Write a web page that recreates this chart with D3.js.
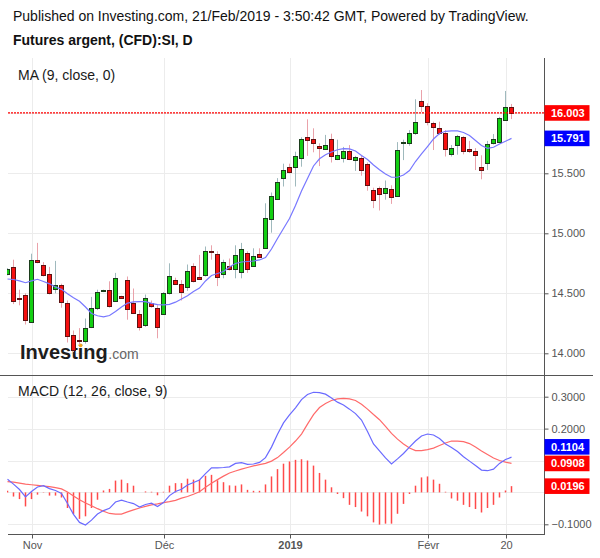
<!DOCTYPE html>
<html><head><meta charset="utf-8">
<script src="https://cdn.jsdelivr.net/npm/d3@7"></script>
<style>
html,body{margin:0;padding:0;background:#fff;}
svg{display:block;font-family:"Liberation Sans",Arial,sans-serif;}
</style></head><body>
<svg id="chart" width="600" height="558"></svg>
<script>
const title = "Published on Investing.com, 21/Feb/2019 - 3:50:42 GMT, Powered by TradingView.";
const subtitle = "Futures argent, (CFD):SI, D";
const maLabel = "MA (9, close, 0)";
const macdLabel = "MACD (12, 26, close, 9)";

const dates = ["2018-10-26","2018-10-29","2018-10-30","2018-10-31",
"2018-11-01","2018-11-02","2018-11-05","2018-11-06","2018-11-07","2018-11-08","2018-11-09","2018-11-12","2018-11-13","2018-11-14","2018-11-15","2018-11-16","2018-11-19","2018-11-20","2018-11-21","2018-11-22","2018-11-23","2018-11-26","2018-11-27","2018-11-28","2018-11-29","2018-11-30",
"2018-12-03","2018-12-04","2018-12-05","2018-12-06","2018-12-07","2018-12-10","2018-12-11","2018-12-12","2018-12-13","2018-12-14","2018-12-17","2018-12-18","2018-12-19","2018-12-20","2018-12-21","2018-12-24","2018-12-25","2018-12-26","2018-12-27","2018-12-28","2018-12-31",
"2019-01-01","2019-01-02","2019-01-03","2019-01-04","2019-01-07","2019-01-08","2019-01-09","2019-01-10","2019-01-11","2019-01-14","2019-01-15","2019-01-16","2019-01-17","2019-01-18","2019-01-21","2019-01-22","2019-01-23","2019-01-24","2019-01-25","2019-01-28","2019-01-29","2019-01-30","2019-01-31",
"2019-02-01","2019-02-04","2019-02-05","2019-02-06","2019-02-07","2019-02-08","2019-02-11","2019-02-12","2019-02-13","2019-02-14","2019-02-15","2019-02-18","2019-02-19","2019-02-20","2019-02-21"];

const open = [14.66,14.72,14.465,14.49,14.26,14.78,14.74,14.66,14.54,14.567,
14.42,14.15,14.11,14.10,14.22,14.38,14.52,14.53,14.44,14.475,
14.61,14.42,14.33,14.24,14.42,14.375,14.33,14.50,14.61,14.58,
14.55,14.73,14.635,14.65,14.855,14.825,14.66,14.73,14.705,14.68,
14.84,14.73,14.83,14.875,15.117,15.29,15.46,15.555,15.55,15.625,
15.80,15.79,15.725,15.705,15.79,15.62,15.63,15.686,15.613,15.625,
15.58,15.36,15.375,15.34,15.367,15.313,15.75,15.75,15.84,16.10,
16.058,15.92,15.877,15.836,15.66,15.736,15.80,15.70,15.686,15.553,
15.583,15.75,15.76,15.944,16.05];
const high = [14.71,14.78,14.53,14.50,14.83,14.92,14.76,14.72,14.77,14.58,
14.44,14.19,14.21,14.29,14.47,14.53,14.53,14.60,14.67,14.48,
14.64,14.54,14.36,14.49,14.44,14.40,14.51,14.75,14.63,14.61,
14.74,14.75,14.82,14.89,14.90,14.85,14.78,14.79,14.90,14.92,
14.85,14.875,14.875,15.25,15.34,15.46,15.58,15.58,15.68,15.80,
15.95,15.875,15.75,15.82,15.83,15.78,15.72,15.735,15.645,15.65,
15.59,15.38,15.39,15.44,15.40,15.76,15.78,15.86,16.117,16.194,
16.083,15.93,15.93,15.86,15.736,15.82,15.81,15.77,15.71,15.65,
15.77,15.827,15.97,16.186,16.078];
const low = [14.65,14.41,14.40,14.24,14.26,14.75,14.64,14.49,14.50,14.38,
14.09,14.01,14.07,14.08,14.21,14.36,14.51,14.38,14.43,14.46,
14.28,14.33,14.19,14.22,14.38,14.125,14.33,14.49,14.57,14.44,
14.52,14.59,14.62,14.64,14.78,14.56,14.625,14.69,14.625,14.625,
14.67,14.72,14.80,14.87,15.005,15.28,15.39,15.50,15.39,15.555,
15.645,15.675,15.56,15.70,15.59,15.61,15.59,15.61,15.52,15.48,
15.355,15.21,15.19,15.28,15.245,15.305,15.61,15.73,15.82,16.01,
15.90,15.694,15.82,15.64,15.64,15.655,15.658,15.67,15.527,15.45,
15.527,15.74,15.75,15.94,15.952];
const close = [14.70,14.44,14.455,14.28,14.775,14.76,14.65,14.50,14.567,14.425,
14.14,14.03,14.10,14.21,14.38,14.51,14.525,14.39,14.625,14.465,
14.37,14.34,14.22,14.46,14.39,14.22,14.50,14.64,14.58,14.51,
14.69,14.605,14.62,14.85,14.845,14.635,14.76,14.70,14.82,14.87,
14.70,14.815,14.805,15.125,15.31,15.43,15.53,15.51,15.64,15.79,
15.78,15.75,15.71,15.735,15.64,15.65,15.686,15.617,15.636,15.53,
15.40,15.28,15.325,15.375,15.30,15.694,15.76,15.836,15.927,16.063,
15.925,15.883,15.833,15.70,15.71,15.808,15.686,15.683,15.65,15.525,
15.74,15.783,15.958,16.05,16.003];

const ma9 = [14.619,14.615,14.603,14.588,14.603,14.617,14.598,14.579,14.553,14.533,
14.496,14.463,14.433,14.386,14.332,14.313,14.304,14.315,14.348,14.386,
14.418,14.428,14.430,14.430,14.416,14.406,14.403,14.408,14.426,14.453,
14.479,14.515,14.544,14.603,14.648,14.665,14.682,14.719,14.748,14.761,
14.765,14.769,14.778,14.798,14.869,14.957,15.040,15.123,15.232,15.353,
15.457,15.561,15.621,15.654,15.678,15.696,15.706,15.704,15.686,15.648,
15.615,15.569,15.530,15.494,15.467,15.467,15.486,15.523,15.598,15.661,
15.723,15.786,15.832,15.850,15.853,15.853,15.840,15.815,15.773,15.732,
15.708,15.717,15.744,15.767,15.791];

const macd = [0.041,0.026,0.009,-0.014,0.003,0.017,0.021,0.012,0.006,-0.003,
-0.035,-0.069,-0.094,-0.102,-0.087,-0.068,-0.057,-0.050,-0.030,-0.024,
-0.030,-0.035,-0.046,-0.038,-0.034,-0.044,-0.032,-0.010,0.003,0.010,
0.023,0.031,0.039,0.059,0.077,0.077,0.078,0.080,0.091,0.093,
0.088,0.089,0.094,0.109,0.142,0.182,0.218,0.243,0.265,0.291,
0.307,0.314,0.313,0.308,0.296,0.283,0.274,0.261,0.247,0.227,
0.191,0.152,0.130,0.108,0.089,0.105,0.122,0.142,0.161,0.177,
0.183,0.180,0.169,0.152,0.141,0.128,0.112,0.098,0.084,0.070,
0.068,0.073,0.091,0.103,0.1104];
const signal = [0.034,0.032,0.029,0.026,0.024,0.022,0.020,0.018,0.015,0.011,
0.001,-0.011,-0.023,-0.033,-0.042,-0.051,-0.059,-0.066,-0.068,-0.068,
-0.061,-0.055,-0.049,-0.044,-0.039,-0.036,-0.032,-0.029,-0.025,-0.018,
-0.013,-0.006,0.002,0.016,0.029,0.040,0.051,0.061,0.067,0.073,
0.078,0.083,0.087,0.091,0.098,0.109,0.125,0.142,0.161,0.183,
0.214,0.244,0.266,0.279,0.288,0.293,0.295,0.293,0.288,0.276,
0.261,0.244,0.228,0.207,0.185,0.167,0.152,0.139,0.131,0.131,
0.134,0.139,0.147,0.155,0.161,0.161,0.159,0.153,0.142,0.130,
0.119,0.108,0.100,0.095,0.0908];
const hist = [0.005,-0.013,-0.021,-0.044,-0.021,-0.007,0.001,-0.010,-0.010,-0.016,
-0.049,-0.068,-0.083,-0.075,-0.049,-0.023,0.006,0.011,0.037,0.040,
0.029,0.021,0.000,0.003,0.002,-0.009,0.002,0.021,0.029,0.029,
0.043,0.040,0.040,0.052,0.055,0.038,0.032,0.022,0.021,0.025,
0.008,0.005,0.005,0.025,0.050,0.073,0.090,0.097,0.102,0.104,
0.100,0.084,0.061,0.040,0.016,-0.005,-0.018,-0.039,-0.046,-0.060,
-0.075,-0.094,-0.101,-0.098,-0.098,-0.067,-0.036,-0.005,0.021,0.047,
0.050,0.040,0.027,0.002,-0.019,-0.026,-0.039,-0.046,-0.052,-0.063,
-0.049,-0.039,-0.016,0.006,0.0196];

const priceTicks = [14, 14.5, 15, 15.5, 16];
const macdTicks = [-0.1, 0, 0.1, 0.2, 0.3];
const xTickDates = ["2018-11-01","2018-12-03","2019-01-01","2019-02-01","2019-02-20"];
const xTickLabels = ["Nov","Déc","2019","Févr","20"];

// ---------- layout ----------
const L = 7, R = 544, pTop = 58, pBot = 375, mTop = 375, mBot = 534;
const svg = d3.select("#chart");
svg.append("rect").attr("width",600).attr("height",558).attr("fill","#fff");

const x = d3.scalePoint().domain(dates).range([7.5, 511.5]);
const yP = d3.scaleLinear().domain([14, 16]).range([353.3, 113.3]);
const yM = d3.scaleLinear().domain([-0.1, 0.3]).range([524.3, 396.7]);
const crisp = v => Math.round(v) + 0.5;

const defs = svg.append("defs");
defs.append("clipPath").attr("id","clipP").append("rect").attr("x",L).attr("y",pTop).attr("width",R-L).attr("height",pBot-pTop);
defs.append("clipPath").attr("id","clipM").append("rect").attr("x",L).attr("y",mTop+1).attr("width",R-L).attr("height",mBot-mTop-1);

// titles
svg.append("text").attr("x",13).attr("y",21).attr("font-size",14).attr("fill","#111").text(title);
svg.append("text").attr("x",13).attr("y",45).attr("font-size",14).attr("font-weight","bold").attr("fill","#111").text(subtitle);

// grid
const grid = svg.append("g").attr("stroke","#ececec").attr("stroke-width",1);
grid.selectAll(".vg").data(xTickDates).join("line")
  .attr("x1",d=>crisp(x(d))).attr("x2",d=>crisp(x(d))).attr("y1",pTop).attr("y2",mBot);
grid.selectAll(".hp").data(priceTicks).join("line")
  .attr("x1",L+1).attr("x2",R).attr("y1",d=>crisp(yP(d))).attr("y2",d=>crisp(yP(d)));
grid.selectAll(".hm").data(macdTicks).join("line")
  .attr("x1",L+1).attr("x2",R).attr("y1",d=>crisp(yM(d))).attr("y2",d=>crisp(yM(d)));

// logo watermark
const logo = svg.append("g");
const inv = logo.append("text").attr("x",20).attr("y",358.5).attr("font-size",20).attr("font-weight","bold")
  .attr("fill","#1d1d1d").text("Investing");
const invW = inv.node().getComputedTextLength();
logo.append("text").attr("x",20+invW+0.5).attr("y",358.5).attr("font-size",14).attr("fill","#666").text(".com");
const iStart = inv.node().getStartPositionOfChar(6).x, iEnd = inv.node().getEndPositionOfChar(6).x;
logo.append("circle").attr("cx",(iStart+iEnd)/2).attr("cy",345.3).attr("r",1.9).attr("fill","#f5a623");

// labels
svg.append("text").attr("x",18).attr("y",80).attr("font-size",14).attr("fill","#1a1a1a").text(maLabel);
svg.append("text").attr("x",18).attr("y",396).attr("font-size",14).attr("fill","#1a1a1a").text(macdLabel);

// ---------- price pane ----------
const pg = svg.append("g").attr("clip-path","url(#clipP)");
const idx = d3.range(dates.length);
pg.selectAll(".wick").data(idx).join("line")
  .attr("x1",i=>x(dates[i])).attr("x2",i=>x(dates[i]))
  .attr("y1",i=>yP(high[i])).attr("y2",i=>yP(low[i]))
  .attr("stroke",i=>close[i]>=open[i] ? "#9fb9bd" : "#eaa2aa").attr("stroke-width",1);
pg.selectAll(".body").data(idx).join("rect")
  .attr("x",i=>x(dates[i])-2).attr("width",4)
  .attr("y",i=>Math.round(yP(Math.max(open[i],close[i])))+0.5)
  .attr("height",i=>Math.max(1, Math.round(yP(Math.min(open[i],close[i]))) - Math.round(yP(Math.max(open[i],close[i])))))
  .attr("fill",i=>close[i]>=open[i] ? "#12cf12" : "#f50f0f")
  .attr("stroke",i=>close[i]>=open[i] ? "#1c3d1c" : "#5e1212").attr("stroke-width",1);
pg.append("path").datum(idx)
  .attr("d", d3.line().x(i=>x(dates[i])).y(i=>yP(ma9[i])))
  .attr("fill","none").attr("stroke","#7878ff").attr("stroke-width",1.2);
const lastClose = close[close.length-1];
svg.append("line").attr("x1",L+1).attr("x2",R).attr("y1",yP(lastClose)).attr("y2",yP(lastClose))
  .attr("stroke","#ff0000").attr("stroke-dasharray","2,1").attr("stroke-width",1.2);

// ---------- MACD pane ----------
const mg = svg.append("g").attr("clip-path","url(#clipM)");
mg.selectAll(".hb").data(idx).join("line")
  .attr("x1",i=>x(dates[i])).attr("x2",i=>x(dates[i]))
  .attr("y1",yM(0)).attr("y2",i=>yM(hist[i]))
  .attr("stroke","#ff4a4a").attr("stroke-width",1.5);
mg.append("path").datum(idx)
  .attr("d", d3.line().x(i=>x(dates[i])).y(i=>yM(signal[i])))
  .attr("fill","none").attr("stroke","#ff6a6a").attr("stroke-width",1.2);
mg.append("path").datum(idx)
  .attr("d", d3.line().x(i=>x(dates[i])).y(i=>yM(macd[i])))
  .attr("fill","none").attr("stroke","#6a6aff").attr("stroke-width",1.2);

// ---------- value labels (computed first so covered tick labels can be hidden) ----------
const boxH = 15.6;
function stackLabels(items){
  items.sort((a,b)=>b.y-a.y);
  let prev = Infinity;
  items.forEach(it=>{ it.cy = Math.min(it.y, prev - boxH - 1); prev = it.cy; });
  return items;
}
const priceLabels = stackLabels([
  {v:lastClose, y:yP(lastClose), color:"#ff0000", fmt:d3.format(".3f")},
  {v:ma9[ma9.length-1], y:yP(ma9[ma9.length-1]), color:"#0000ff", fmt:d3.format(".3f")}
]);
const macdLabels = stackLabels([
  {v:macd[macd.length-1], y:yM(macd[macd.length-1]), color:"#0000ff", fmt:d3.format(".4f")},
  {v:signal[signal.length-1], y:yM(signal[signal.length-1]), color:"#ff0000", fmt:d3.format(".4f")},
  {v:hist[hist.length-1], y:yM(hist[hist.length-1]), color:"#ff0000", fmt:d3.format(".4f")}
]);
const allLabels = priceLabels.concat(macdLabels);
const covered = yy => allLabels.some(l => Math.abs(l.cy - yy) < boxH/2 + 5);

// ---------- axes ----------
const axisColor = "#555";
function styleAxis(g){
  g.select(".domain").remove();
  g.selectAll(".tick line").attr("stroke",axisColor);
  g.selectAll(".tick text").attr("fill","#555").attr("font-size",11).attr("font-family","Liberation Sans, Arial, sans-serif");
}
const ap = svg.append("g").attr("transform",`translate(${R+0.5},0)`)
  .call(d3.axisRight(yP).tickValues(priceTicks).tickFormat(d3.format(".3f")).tickSize(4).tickPadding(3))
  .call(styleAxis);
ap.selectAll(".tick text").attr("display",d=>covered(yP(d))?"none":null);
const am = svg.append("g").attr("transform",`translate(${R+0.5},0)`)
  .call(d3.axisRight(yM).tickValues(macdTicks).tickFormat(d3.format(".4f")).tickSize(4).tickPadding(3))
  .call(styleAxis);
am.selectAll(".tick text").attr("display",d=>covered(yM(d))?"none":null);
const xa = svg.append("g").attr("transform",`translate(0,${mBot+0.5})`)
  .call(d3.axisBottom(x).tickValues(xTickDates).tickFormat((d,i)=>xTickLabels[i]).tickSize(4).tickPadding(3))
  .call(styleAxis);
xa.selectAll(".tick").attr("transform",d=>`translate(${crisp(x(d))},0)`);
xa.selectAll(".tick text").attr("font-weight",(d,i)=>xTickLabels[i]==="2019"?"bold":"normal");

// frame lines
svg.append("line").attr("x1",R+0.5).attr("x2",R+0.5).attr("y1",pTop).attr("y2",mBot+1).attr("stroke",axisColor);
svg.append("line").attr("x1",0).attr("x2",593).attr("y1",mTop+0.5).attr("y2",mTop+0.5).attr("stroke",axisColor);
svg.append("line").attr("x1",L+1).attr("x2",R+1).attr("y1",mBot+0.5).attr("y2",mBot+0.5).attr("stroke",axisColor);

// draw value labels
allLabels.forEach(it=>{
  const g = svg.append("g");
  g.append("rect").attr("x",R+0.5).attr("y",it.cy-boxH/2).attr("width",45).attr("height",boxH).attr("fill",it.color);
  g.append("text").attr("x",551).attr("y",it.cy+4).attr("font-size",11).attr("font-weight","bold")
    .attr("fill","#fff").text(it.fmt(it.v));
});
</script>
</body></html>
